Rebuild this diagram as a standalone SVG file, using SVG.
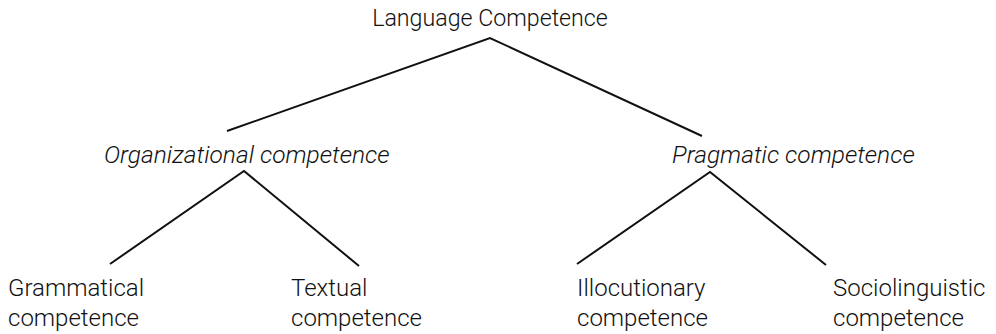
<svg xmlns="http://www.w3.org/2000/svg" width="996" height="334" viewBox="0 0 996 334">
<style>
text{font-family:Roboto,"Noto Sans",sans-serif;font-weight:300;font-size:24px;fill:#111}
.it{font-style:italic;font-size:24.5px}
.rt{font-size:23.2px}
.ln{stroke:#111;stroke-width:2;fill:none}
</style>
<rect width="996" height="334" fill="#fff"/>
<g id="connectors">
<polyline class="ln" points="227,131 490,38 702,136"/>
<polyline class="ln" points="110,264 244,171 359,266"/>
<polyline class="ln" points="577,264 710,172 826,265"/>
</g>
<g id="n-root"><text class="rt" x="490" y="26" text-anchor="middle">Language Competence</text></g>
<g id="n-org"><text class="it" x="104" y="163">Organizational competence</text></g>
<g id="n-prag"><text class="it" x="672" y="163">Pragmatic competence</text></g>
<g id="n-gram"><text x="8" y="296">Grammatical</text><text x="8" y="326">competence</text></g>
<g id="n-text"><text x="291" y="296">Textual</text><text x="291" y="326">competence</text></g>
<g id="n-illo"><text x="577" y="296">Illocutionary</text><text x="577" y="326">competence</text></g>
<g id="n-socio"><text x="833" y="296">Sociolinguistic</text><text x="833" y="326">competence</text></g>
</svg>
